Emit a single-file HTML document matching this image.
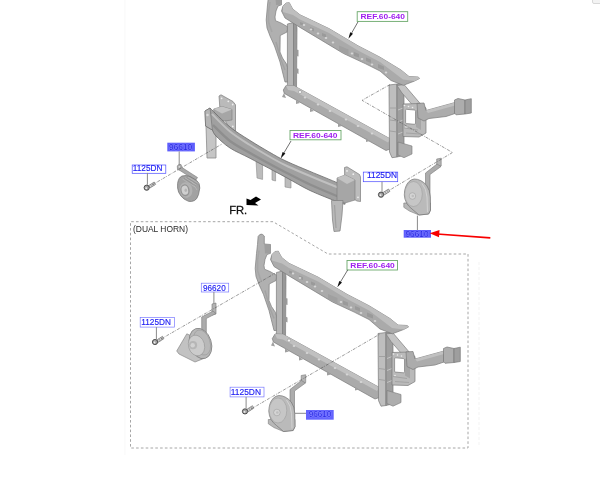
<!DOCTYPE html>
<html><head><meta charset="utf-8">
<style>
html,body{margin:0;padding:0;background:#fff;}
body{width:600px;height:483px;overflow:hidden;position:relative;font-family:"Liberation Sans",sans-serif;}
svg{position:absolute;left:0;top:0;}
</style></head>
<body>
<svg width="600" height="483" viewBox="0 0 600 483">
<defs>
<filter id="sf" x="-5%" y="-5%" width="110%" height="110%"><feGaussianBlur stdDeviation="0.5"/></filter>

</defs>

<rect x="124" y="0" width="1.6" height="455" fill="#fbfbfb"/>
<path d="M479,262 L479,447" stroke="#f6f6f6" stroke-width="1.2" stroke-dasharray="3,2"/>

<g filter="url(#sf)">
<g stroke-linejoin="round">
  <!-- tall left bracket -->
  <path d="M269.1,-12 Q272,-16.5 275.3,-12.5 L275.3,-4.5 L281.5,-4 L281.5,4.8 L278,6 L276,11 L275,17 L275.5,20.7 L281,23 L288,27 L287,32 L280.2,35.5 L280,52 L282.5,58 L286.5,64 L289,72 L290,82 L285,82 L280,62 L274.5,46 L270,36 L267,28 L266.2,20 L267.5,5 L268.5,-4 Z" fill="#b0b0b0" stroke="#7c7c7c" stroke-width="0.7"/>
  <path d="M275.3,-4.5 L281.5,-4 L281.5,4.8 L276,5 Z" fill="#9e9e9e"/>
  <path d="M270,2 L268.5,12 L268.5,22 L272,32" stroke="#a6a6a6" stroke-width="1.6" fill="none"/>
  <path d="M276,42 L281,60 L285,70" stroke="#a2a2a2" stroke-width="1.4" fill="none"/>
  <!-- left post -->
  <path d="M287.4,24 L293.5,22.5 L293.5,92 L287.4,93 Z" fill="#b6b6b6" stroke="#7c7c7c" stroke-width="0.7"/>
  <path d="M293.5,22.5 L296,21.5 L297,28 L296.5,90 L293.5,92 Z" fill="#989898" stroke="#7c7c7c" stroke-width="0.7"/>
  <path d="M296.5,49.5 L298.5,50 L298.5,56.5 L296.5,56 Z M296.5,68 L298.5,69 L298.5,74 L296.5,73 Z" fill="#9a9a9a"/>
  <!-- bottom beam -->
  <path d="M283.3,90 L286,85.5 L294,85.8 L390.5,139 L393,148 L386,150.5 L296,100 L284.3,93.4 Z" fill="#aaaaaa" stroke="#7a7a7a" stroke-width="0.7"/>
  <path d="M286,85.5 L294,85.8 L390.5,139 L388,142.5 L294,91 L288,90 Z" fill="#c0c0c0"/>
  <circle cx="300" cy="92" r="1.6" fill="#f4f4f4" stroke="#7a7a7a" stroke-width="0.4"/>
  <path d="M284,93 L282,97 L286,98 Z M296,100 L296,104 L300,103 Z M310,108 L310,112 L314,111 Z M338,123 L338,127 L342,126 Z M366,138 L366,142 L370,141 Z" fill="#a0a0a0"/>
  <!-- right post -->
  <path d="M389,85 L397,84 L397,157 L392,157.7 L389.5,152 Z" fill="#bebebe" stroke="#7a7a7a" stroke-width="0.7"/>
  <path d="M397,84 L401,83 L404,88 L404,150 L401,156 L397,157 Z" fill="#9e9e9e" stroke="#7a7a7a" stroke-width="0.7"/>
  <path d="M390,108 L397,108 M390,120 L397,121 M390,131 L397,132" stroke="#999" stroke-width="0.8"/>
  <path d="M398,110 L403,108 M398,122 L403,120 M398,134 L403,132" stroke="#c4c4c4" stroke-width="1"/>
  <path d="M398,142 L412,146 L412,154 L404,157.7 L398,155 Z" fill="#adadad" stroke="#7a7a7a" stroke-width="0.6"/>
  <!-- diagonal brace -->
  <path d="M397,85.5 L404,84.5 L421,104.5 L421.5,110 L415.5,108.5 L402,93 Z" fill="#c4c4c4" stroke="#7c7c7c" stroke-width="0.7"/>
  <!-- bracket plate with hole -->
  <path d="M403,104 L420,103.5 L426,108 L426,133 L419,137 L403,136.5 Z M406.5,109.3 L414.5,110 Q415.5,110.2 415.5,111.5 L415.5,123 Q415.5,124.3 414.5,124.3 L406.5,123.6 Q405.6,123.5 405.6,122.5 L405.6,110.5 Q405.6,109.3 406.5,109.3 Z" fill-rule="evenodd" fill="#bababa" stroke="#7a7a7a" stroke-width="0.7"/>
  <circle cx="404.5" cy="105.5" r="0.8" fill="#eee"/><circle cx="408.5" cy="106.5" r="0.8" fill="#eee"/><circle cx="412.5" cy="107.5" r="0.8" fill="#eee"/><circle cx="406" cy="127" r="0.8" fill="#eee"/><circle cx="418.5" cy="121" r="0.8" fill="#eee"/>
  <path d="M416,110 L421,112 L421,130 L416,127 Z" fill="#a6a6a6"/>
  <path d="M404,128 L418,130 M406,133 L420,134" stroke="#9a9a9a" stroke-width="0.7"/>
  <!-- arm -->
  <path d="M417,103.4 L424,103 L426,110.5 L455,102.5 L455,113.5 L446,116.5 L429,118.5 L424,121 L418,118 Z" fill="#acacac" stroke="#7a7a7a" stroke-width="0.7"/>
  <path d="M426,110.5 L455,102.5 L455,105.5 L428,113 Z" fill="#c0c0c0"/>
  <path d="M454.5,100 L458,98.5 L465,100 L465,114 L456,114.8 L454.5,113 Z" fill="#adadad" stroke="#7a7a7a" stroke-width="0.7"/>
  <path d="M465,100 L471.3,98.7 L471.3,113 L465,114 Z" fill="#9e9e9e" stroke="#7a7a7a" stroke-width="0.7"/>
  <!-- top beam -->
  <path d="M281.5,11 L283,6 L286,3 L289.3,2.7 L292.7,9 L300,14.8 L329,28.6 L358,45.8 L380,57.2 L401,70 L409,76.5 L418.3,77 L419.5,78.5 L414.6,81 L403.4,85.3 L391,80.5 L380,71 L365.2,63.6 L343.5,53.5 L321.7,40.4 L300,27.4 L285,18 Z" fill="#aaaaaa" stroke="#7a7a7a" stroke-width="0.7"/>
  <path d="M283,6 L286,3 L289.3,2.7 L292.7,9 L300,14.8 L329,28.6 L358,45.8 L380,57.2 L401,70 L409,76.5 L418.3,77 L419.5,78.5 L414.6,81 L403,79.5 L380,62 L358,50.5 L329,33 L300,19.5 L293,15 L283,12 Z" fill="#bebebe"/>
  <path d="M300,22 L303,23 L303,25.5 L300,24.5 Z M310,27 L314,28.5 L314,31.5 L310,30 Z M322,33 L326,34.5 L326,37.5 L322,36 Z M354,52 L359,54 L359,57.5 L354,56 Z M366,57.5 L371,59.5 L371,63 L366,61 Z M378,64 L384,66.5 L384,70 L378,68 Z" fill="#9a9a9a"/>
  <ellipse cx="304" cy="25" rx="1.3" ry="0.9" fill="#d6d6d6"/><ellipse cx="311" cy="29.5" rx="1.3" ry="0.9" fill="#d6d6d6"/><ellipse cx="318" cy="33.5" rx="1.3" ry="0.9" fill="#d6d6d6"/><ellipse cx="326" cy="38" rx="1.3" ry="0.9" fill="#d6d6d6"/><ellipse cx="333" cy="42.5" rx="1.3" ry="0.9" fill="#d6d6d6"/><ellipse cx="352" cy="53.5" rx="1.3" ry="0.9" fill="#d6d6d6"/><ellipse cx="362" cy="59" rx="1.3" ry="0.9" fill="#d6d6d6"/><ellipse cx="372" cy="64.5" rx="1.3" ry="0.9" fill="#d6d6d6"/><ellipse cx="386" cy="72.5" rx="1.3" ry="0.9" fill="#d6d6d6"/><ellipse cx="305" cy="97.5" rx="1.3" ry="0.9" fill="#d6d6d6"/><ellipse cx="318" cy="104.5" rx="1.3" ry="0.9" fill="#d6d6d6"/><ellipse cx="330" cy="111" rx="1.3" ry="0.9" fill="#d6d6d6"/><ellipse cx="346" cy="119.5" rx="1.3" ry="0.9" fill="#d6d6d6"/><ellipse cx="358" cy="126" rx="1.3" ry="0.9" fill="#d6d6d6"/><ellipse cx="372" cy="133.5" rx="1.3" ry="0.9" fill="#d6d6d6"/>
  <path d="M339,45.5 L348.5,49.5 L348.5,55 L339,50.5 Z" fill="#a0a0a0"/>
</g>
<g stroke-linejoin="round" transform="translate(-11,248.5)">
  <!-- tall left bracket -->
  <path d="M269.1,-12 Q272,-16.5 275.3,-12.5 L275.3,-4.5 L281.5,-4 L281.5,4.8 L278,6 L276,11 L275,17 L275.5,20.7 L281,23 L288,27 L287,32 L280.2,35.5 L280,52 L282.5,58 L286.5,64 L289,72 L290,82 L285,82 L280,62 L274.5,46 L270,36 L267,28 L266.2,20 L267.5,5 L268.5,-4 Z" fill="#b0b0b0" stroke="#7c7c7c" stroke-width="0.7"/>
  <path d="M275.3,-4.5 L281.5,-4 L281.5,4.8 L276,5 Z" fill="#9e9e9e"/>
  <path d="M270,2 L268.5,12 L268.5,22 L272,32" stroke="#a6a6a6" stroke-width="1.6" fill="none"/>
  <path d="M276,42 L281,60 L285,70" stroke="#a2a2a2" stroke-width="1.4" fill="none"/>
  <!-- left post -->
  <path d="M287.4,24 L293.5,22.5 L293.5,92 L287.4,93 Z" fill="#b6b6b6" stroke="#7c7c7c" stroke-width="0.7"/>
  <path d="M293.5,22.5 L296,21.5 L297,28 L296.5,90 L293.5,92 Z" fill="#989898" stroke="#7c7c7c" stroke-width="0.7"/>
  <path d="M296.5,49.5 L298.5,50 L298.5,56.5 L296.5,56 Z M296.5,68 L298.5,69 L298.5,74 L296.5,73 Z" fill="#9a9a9a"/>
  <!-- bottom beam -->
  <path d="M283.3,90 L286,85.5 L294,85.8 L390.5,139 L393,148 L386,150.5 L296,100 L284.3,93.4 Z" fill="#aaaaaa" stroke="#7a7a7a" stroke-width="0.7"/>
  <path d="M286,85.5 L294,85.8 L390.5,139 L388,142.5 L294,91 L288,90 Z" fill="#c0c0c0"/>
  <circle cx="300" cy="92" r="1.6" fill="#f4f4f4" stroke="#7a7a7a" stroke-width="0.4"/>
  <path d="M284,93 L282,97 L286,98 Z M296,100 L296,104 L300,103 Z M310,108 L310,112 L314,111 Z M338,123 L338,127 L342,126 Z M366,138 L366,142 L370,141 Z" fill="#a0a0a0"/>
  <!-- right post -->
  <path d="M389,85 L397,84 L397,157 L392,157.7 L389.5,152 Z" fill="#bebebe" stroke="#7a7a7a" stroke-width="0.7"/>
  <path d="M397,84 L401,83 L404,88 L404,150 L401,156 L397,157 Z" fill="#9e9e9e" stroke="#7a7a7a" stroke-width="0.7"/>
  <path d="M390,108 L397,108 M390,120 L397,121 M390,131 L397,132" stroke="#999" stroke-width="0.8"/>
  <path d="M398,110 L403,108 M398,122 L403,120 M398,134 L403,132" stroke="#c4c4c4" stroke-width="1"/>
  <path d="M398,142 L412,146 L412,154 L404,157.7 L398,155 Z" fill="#adadad" stroke="#7a7a7a" stroke-width="0.6"/>
  <!-- diagonal brace -->
  <path d="M397,85.5 L404,84.5 L421,104.5 L421.5,110 L415.5,108.5 L402,93 Z" fill="#c4c4c4" stroke="#7c7c7c" stroke-width="0.7"/>
  <!-- bracket plate with hole -->
  <path d="M403,104 L420,103.5 L426,108 L426,133 L419,137 L403,136.5 Z M406.5,109.3 L414.5,110 Q415.5,110.2 415.5,111.5 L415.5,123 Q415.5,124.3 414.5,124.3 L406.5,123.6 Q405.6,123.5 405.6,122.5 L405.6,110.5 Q405.6,109.3 406.5,109.3 Z" fill-rule="evenodd" fill="#bababa" stroke="#7a7a7a" stroke-width="0.7"/>
  <circle cx="404.5" cy="105.5" r="0.8" fill="#eee"/><circle cx="408.5" cy="106.5" r="0.8" fill="#eee"/><circle cx="412.5" cy="107.5" r="0.8" fill="#eee"/><circle cx="406" cy="127" r="0.8" fill="#eee"/><circle cx="418.5" cy="121" r="0.8" fill="#eee"/>
  <path d="M416,110 L421,112 L421,130 L416,127 Z" fill="#a6a6a6"/>
  <path d="M404,128 L418,130 M406,133 L420,134" stroke="#9a9a9a" stroke-width="0.7"/>
  <!-- arm -->
  <path d="M417,103.4 L424,103 L426,110.5 L455,102.5 L455,113.5 L446,116.5 L429,118.5 L424,121 L418,118 Z" fill="#acacac" stroke="#7a7a7a" stroke-width="0.7"/>
  <path d="M426,110.5 L455,102.5 L455,105.5 L428,113 Z" fill="#c0c0c0"/>
  <path d="M454.5,100 L458,98.5 L465,100 L465,114 L456,114.8 L454.5,113 Z" fill="#adadad" stroke="#7a7a7a" stroke-width="0.7"/>
  <path d="M465,100 L471.3,98.7 L471.3,113 L465,114 Z" fill="#9e9e9e" stroke="#7a7a7a" stroke-width="0.7"/>
  <!-- top beam -->
  <path d="M281.5,11 L283,6 L286,3 L289.3,2.7 L292.7,9 L300,14.8 L329,28.6 L358,45.8 L380,57.2 L401,70 L409,76.5 L418.3,77 L419.5,78.5 L414.6,81 L403.4,85.3 L391,80.5 L380,71 L365.2,63.6 L343.5,53.5 L321.7,40.4 L300,27.4 L285,18 Z" fill="#aaaaaa" stroke="#7a7a7a" stroke-width="0.7"/>
  <path d="M283,6 L286,3 L289.3,2.7 L292.7,9 L300,14.8 L329,28.6 L358,45.8 L380,57.2 L401,70 L409,76.5 L418.3,77 L419.5,78.5 L414.6,81 L403,79.5 L380,62 L358,50.5 L329,33 L300,19.5 L293,15 L283,12 Z" fill="#bebebe"/>
  <path d="M300,22 L303,23 L303,25.5 L300,24.5 Z M310,27 L314,28.5 L314,31.5 L310,30 Z M322,33 L326,34.5 L326,37.5 L322,36 Z M354,52 L359,54 L359,57.5 L354,56 Z M366,57.5 L371,59.5 L371,63 L366,61 Z M378,64 L384,66.5 L384,70 L378,68 Z" fill="#9a9a9a"/>
  <ellipse cx="304" cy="25" rx="1.3" ry="0.9" fill="#d6d6d6"/><ellipse cx="311" cy="29.5" rx="1.3" ry="0.9" fill="#d6d6d6"/><ellipse cx="318" cy="33.5" rx="1.3" ry="0.9" fill="#d6d6d6"/><ellipse cx="326" cy="38" rx="1.3" ry="0.9" fill="#d6d6d6"/><ellipse cx="333" cy="42.5" rx="1.3" ry="0.9" fill="#d6d6d6"/><ellipse cx="352" cy="53.5" rx="1.3" ry="0.9" fill="#d6d6d6"/><ellipse cx="362" cy="59" rx="1.3" ry="0.9" fill="#d6d6d6"/><ellipse cx="372" cy="64.5" rx="1.3" ry="0.9" fill="#d6d6d6"/><ellipse cx="386" cy="72.5" rx="1.3" ry="0.9" fill="#d6d6d6"/><ellipse cx="305" cy="97.5" rx="1.3" ry="0.9" fill="#d6d6d6"/><ellipse cx="318" cy="104.5" rx="1.3" ry="0.9" fill="#d6d6d6"/><ellipse cx="330" cy="111" rx="1.3" ry="0.9" fill="#d6d6d6"/><ellipse cx="346" cy="119.5" rx="1.3" ry="0.9" fill="#d6d6d6"/><ellipse cx="358" cy="126" rx="1.3" ry="0.9" fill="#d6d6d6"/><ellipse cx="372" cy="133.5" rx="1.3" ry="0.9" fill="#d6d6d6"/>
  <path d="M339,45.5 L348.5,49.5 L348.5,55 L339,50.5 Z" fill="#a0a0a0"/>
</g>

<!-- bumper beam -->
<path d="M219,96 L221,94.8 L233,101.5 L235.5,104.8 L235.5,131 L229,128 L220,110 Z" fill="#bababa" stroke="#7c7c7c" stroke-width="0.7"/>
<circle cx="221.6" cy="98.3" r="0.9" fill="#eee"/><circle cx="228.3" cy="101.3" r="0.9" fill="#eee"/><circle cx="232.7" cy="104.5" r="0.9" fill="#eee"/><circle cx="232.8" cy="126.5" r="0.9" fill="#eee"/>
<path d="M213.7,109 L222,106.5 L232,109.5 L232,120 L222,121.3 L213.7,118 Z" fill="#a6a6a6" stroke="#7c7c7c" stroke-width="0.6"/>
<path d="M213.7,109 L222,106.5 L232,109.5 L222,113.5 Z" fill="#c4c4c4"/>
<path d="M206,126 L216,128 L216,158 L207,158 Z" fill="#c6c6c6" stroke="#8c8c8c" stroke-width="0.8"/>
<path d="M256,160 L262.6,162 L262.6,179.4 L257,178 Z M272,169 L275.6,170 L275.6,181 L272,180 Z M285,176 L291,178 L291,188 L285,187 Z" fill="#bcbcbc" stroke="#8c8c8c" stroke-width="0.6"/>
<path d="M205,111 L210,108 C213.3,111.2 223.3,121.6 230.0,127.0 C236.7,132.4 242.8,135.9 250.0,140.5 C257.2,145.1 267.2,150.9 273.5,154.5 C279.8,158.1 281.9,159.2 288.0,162.0 C294.1,164.8 301.7,167.9 310.0,171.4 C318.3,174.9 332.2,180.5 338.0,183.0 C343.8,185.5 343.8,185.9 345.0,186.5 L345,204.3 C343.8,203.9 343.8,204.3 338.0,202.0 C332.2,199.7 318.3,194.4 310.0,190.5 C301.7,186.6 294.1,181.8 288.0,178.5 C281.9,175.2 279.8,174.1 273.5,170.7 C267.2,167.3 257.2,162.1 250.0,158.3 C242.8,154.5 235.7,151.7 230.0,148.0 C224.3,144.3 218.9,139.0 216.0,136.0 C213.1,133.0 213.0,131.0 212.4,130.0 L205.6,126 Z" fill="#a0a0a0" stroke="#6a6a6a" stroke-width="0.8"/>
<path d="M205,111 L210,108 L212.4,130 L205.6,126 Z" fill="#b4b4b4" stroke="#6e6e6e" stroke-width="0.6"/>
<circle cx="207.5" cy="115" r="1.3" fill="#d8d8d8"/>
<path d="M212,114 C215.0,116.9 223.7,126.3 230.0,131.5 C236.3,136.7 242.8,140.4 250.0,145.0 C257.2,149.6 267.2,155.4 273.5,159.0 C279.8,162.6 281.9,163.7 288.0,166.5 C294.1,169.3 301.7,172.5 310.0,176.0 C318.3,179.5 332.3,185.2 338.0,187.5 C343.7,189.8 343.0,189.6 344.0,190.0" stroke="#c0c0c0" stroke-width="2" fill="none"/>
<path d="M213,125 C215.8,127.7 223.8,136.3 230.0,141.0 C236.2,145.7 242.8,148.8 250.0,153.0 C257.2,157.2 267.2,162.6 273.5,166.0 C279.8,169.4 281.9,170.4 288.0,173.5 C294.1,176.6 301.7,180.7 310.0,184.5 C318.3,188.3 332.3,194.2 338.0,196.5 C343.7,198.8 343.0,198.2 344.0,198.5" stroke="#8e8e8e" stroke-width="2.4" fill="none"/>


<path d="M344.5,167.5 L347,166.8 L359.5,174.5 L360.5,177 L360.5,201.5 L357,201 L345,194 Z" fill="#bcbcbc" stroke="#7c7c7c" stroke-width="0.7"/>
<circle cx="347" cy="170.9" r="0.9" fill="#eee"/><circle cx="353.3" cy="174.2" r="0.9" fill="#eee"/><circle cx="358" cy="197.3" r="0.9" fill="#eee"/>
<path d="M337,178 L345,175 L355,180 L355,200 L345,203 L337,201 Z" fill="#a6a6a6" stroke="#7c7c7c" stroke-width="0.6"/>
<path d="M337,178 L345,175 L355,180 L347,184 Z" fill="#c2c2c2"/>
<path d="M331.5,200.5 L343,200.5 L342,215 L340,231 L334,231.5 L332.5,220 Z" fill="#b8b8b8" stroke="#7c7c7c" stroke-width="0.7"/>
<path d="M334.5,205 L336,228" stroke="#a0a0a0" stroke-width="1.2"/>

<!-- horns -->
<g id="h1">
<path d="M177.3,166 Q178.5,163.5 181,164.5 L182,167.5 L197.5,177.5 L195.5,180.5 L180,170.5 L177.5,169.5 Z" fill="#a8a8a8" stroke="#7a7a7a" stroke-width="0.6"/>
<circle cx="179.3" cy="166.8" r="0.9" fill="#ddd"/>
<path d="M177.6,183.4 Q178.5,177.5 182,176 Q186,174.8 190,176.5 L196.6,180.4 Q200,183 199.8,188 L198.5,194.6 Q197,199.5 194.4,200.6 Q191.5,202 188.5,201.3 Q183.5,199.5 181,196.1 Q178,192.5 177.6,188 Z" fill="#a2a2a2" stroke="#6e6e6e" stroke-width="0.7"/>
<path d="M185,177.8 L196.5,185 M188,177 L198.5,183.5 M182.5,179 L195,187 M191.5,181 L197,190" stroke="#c0c0c0" stroke-width="0.6" fill="none"/><path d="M186.5,177.5 L197.5,184.3 M184,178.3 L195.8,186" stroke="#888" stroke-width="0.5" fill="none"/>
<ellipse cx="186" cy="190" rx="6.3" ry="7.8" transform="rotate(-15 186 190)" fill="#b2b2b2"/>
<ellipse cx="185" cy="190.3" rx="4.6" ry="6" transform="rotate(-10 185 190.3)" fill="#959595"/>
<ellipse cx="184.9" cy="190.2" rx="3.3" ry="4.6" transform="rotate(-10 184.9 190.2)" fill="#d0d0d0"/>
<ellipse cx="185.8" cy="190.3" rx="1.3" ry="1.8" fill="#b4b4b4"/>
</g>
<g id="h2">
<path d="M436.7,159 L441.2,158.2 L441.2,166 L436.7,167 Z" fill="#b4b4b4" stroke="#7a7a7a" stroke-width="0.6"/>
<path d="M437,164 L441,166.5 L430,174.5 L430,205 L425.5,205 L425.5,173 Z" fill="#acacac" stroke="#7a7a7a" stroke-width="0.6"/>
<path d="M403.8,203 L403.8,207.3 L409.5,211.1 L419,215 L428.6,214 L430.5,210.2 L430.5,203 Z" fill="#b8b8b8" stroke="#7a7a7a" stroke-width="0.6"/>
<path d="M414.3,179 Q421,179 426.7,185.4 Q430,190 430.3,197 L430.5,210.2 L428.6,214 L419,215 L412,209 Q405,204 404.3,195 Q404.5,186 409,181.5 Q411.5,179.3 414.3,179 Z" fill="#bababa" stroke="#747474" stroke-width="0.7"/>
<path d="M422,183.5 Q426.5,189 427,197 L427.5,212" stroke="#d4d4d4" stroke-width="0.9" fill="none"/>
<ellipse cx="413.5" cy="194" rx="8.8" ry="12.5" fill="#c6c6c6" stroke="#999" stroke-width="0.5"/>
<circle cx="412.4" cy="196" r="3.3" fill="#d4d4d4" stroke="#a0a0a0" stroke-width="0.6"/><circle cx="412.8" cy="196" r="1.3" fill="#bdbdbd"/>
</g>
<g transform="translate(-135.5,216.5)">
<path d="M436.7,159 L441.2,158.2 L441.2,166 L436.7,167 Z" fill="#b4b4b4" stroke="#7a7a7a" stroke-width="0.6"/>
<path d="M437,164 L441,166.5 L430,174.5 L430,205 L425.5,205 L425.5,173 Z" fill="#acacac" stroke="#7a7a7a" stroke-width="0.6"/>
<path d="M403.8,203 L403.8,207.3 L409.5,211.1 L419,215 L428.6,214 L430.5,210.2 L430.5,203 Z" fill="#b8b8b8" stroke="#7a7a7a" stroke-width="0.6"/>
<path d="M414.3,179 Q421,179 426.7,185.4 Q430,190 430.3,197 L430.5,210.2 L428.6,214 L419,215 L412,209 Q405,204 404.3,195 Q404.5,186 409,181.5 Q411.5,179.3 414.3,179 Z" fill="#bababa" stroke="#747474" stroke-width="0.7"/>
<path d="M422,183.5 Q426.5,189 427,197 L427.5,212" stroke="#d4d4d4" stroke-width="0.9" fill="none"/>
<ellipse cx="413.5" cy="194" rx="8.8" ry="12.5" fill="#c6c6c6" stroke="#999" stroke-width="0.5"/>
<circle cx="412.4" cy="196" r="3.3" fill="#d4d4d4" stroke="#a0a0a0" stroke-width="0.6"/><circle cx="412.8" cy="196" r="1.3" fill="#bdbdbd"/>
</g>
<g id="h3">
<path d="M212,304 L216,303 L216,314 L212,315 Z" fill="#b4b4b4" stroke="#7a7a7a" stroke-width="0.6"/>
<path d="M213,311 L216,313.5 L206.3,318.5 L206.3,339 L201.7,339 L201.7,317 Z" fill="#acacac" stroke="#7a7a7a" stroke-width="0.6"/>
<path d="M186.8,333.8 L176.7,351 L179,354 L195,362 L204,358.4 L200,340 Z" fill="#c2c2c2" stroke="#7a7a7a" stroke-width="0.6"/>
<ellipse cx="200.5" cy="343.5" rx="10.8" ry="15.6" transform="rotate(-18 200.5 343.5)" fill="#b8b8b8" stroke="#7a7a7a" stroke-width="0.7"/>
<ellipse cx="202" cy="342.5" rx="8" ry="13" transform="rotate(-18 202 342.5)" fill="none" stroke="#999" stroke-width="0.6"/>
<ellipse cx="196.5" cy="345.5" rx="8" ry="10.5" transform="rotate(-15 196.5 345.5)" fill="#cccccc" stroke="#8e8e8e" stroke-width="0.5"/>
<circle cx="193" cy="345.2" r="4.1" fill="#b6b6b6"/>
<circle cx="192.7" cy="345.2" r="2.2" fill="#d2d2d2"/>
</g>
<!-- bolts -->
<g id="bolt">
<path d="M148.6,185.6 L154.2,182 L155.6,184.4 L150,188 Z" fill="#cfcfcf" stroke="#555" stroke-width="0.55"/>
<path d="M150.6,184.4 L152,186.8 M152.6,183.1 L154,185.5" stroke="#666" stroke-width="0.45"/>
<circle cx="146.7" cy="187.7" r="2.6" fill="#a4a4a4" stroke="#3a3a3a" stroke-width="0.85"/>
<circle cx="146.2" cy="188.2" r="0.9" fill="#f0f0f0"/>
</g>
<g transform="translate(234.3,7)">
<path d="M148.6,185.6 L154.2,182 L155.6,184.4 L150,188 Z" fill="#cfcfcf" stroke="#555" stroke-width="0.55"/>
<path d="M150.6,184.4 L152,186.8 M152.6,183.1 L154,185.5" stroke="#666" stroke-width="0.45"/>
<circle cx="146.7" cy="187.7" r="2.6" fill="#a4a4a4" stroke="#3a3a3a" stroke-width="0.85"/>
<circle cx="146.2" cy="188.2" r="0.9" fill="#f0f0f0"/>
</g>
<g transform="translate(8.3,154.3)">
<path d="M148.6,185.6 L154.2,182 L155.6,184.4 L150,188 Z" fill="#cfcfcf" stroke="#555" stroke-width="0.55"/>
<path d="M150.6,184.4 L152,186.8 M152.6,183.1 L154,185.5" stroke="#666" stroke-width="0.45"/>
<circle cx="146.7" cy="187.7" r="2.6" fill="#a4a4a4" stroke="#3a3a3a" stroke-width="0.85"/>
<circle cx="146.2" cy="188.2" r="0.9" fill="#f0f0f0"/>
</g>
<g transform="translate(98.3,223.7)">
<path d="M148.6,185.6 L154.2,182 L155.6,184.4 L150,188 Z" fill="#cfcfcf" stroke="#555" stroke-width="0.55"/>
<path d="M150.6,184.4 L152,186.8 M152.6,183.1 L154,185.5" stroke="#666" stroke-width="0.45"/>
<circle cx="146.7" cy="187.7" r="2.6" fill="#a4a4a4" stroke="#3a3a3a" stroke-width="0.85"/>
<circle cx="146.2" cy="188.2" r="0.9" fill="#f0f0f0"/>
</g>
</g>

<!-- dashed lines -->
<g fill="none" stroke="#555" stroke-width="0.6" stroke-dasharray="3,1.2,0.8,1.2">
  <path d="M152,185 L222,144"/>
    <path d="M389.8,84.7 L362,100.3 L452.5,152.5 L389,190.5"/>
  <path d="M161,339 L275,273.4"/>
  <path d="M251,409 L380,334"/>
</g>
<path d="M273,221.7 L130.5,221.7 L130.5,448 L468,448 L468,254 L328,254 Z" fill="none" stroke="#9c9c9c" stroke-width="0.9" stroke-dasharray="2.6,2.2"/>

<!-- labels -->
<g font-family="Liberation Sans, sans-serif" font-size="8.6">
  <rect x="357.2" y="11.7" width="50.5" height="9.7" fill="#fff" stroke="#6aa86a" stroke-width="0.9"/>
  <text x="360.5" y="18.9" fill="#a020f0" font-size="8" font-weight="bold" textLength="44.5" lengthAdjust="spacingAndGlyphs">REF.60-640</text>
  <rect x="290" y="130.5" width="51" height="9.3" fill="#fff" stroke="#6aa86a" stroke-width="0.9"/>
  <text x="293" y="137.6" fill="#a020f0" font-size="8" font-weight="bold" textLength="44.5" lengthAdjust="spacingAndGlyphs">REF.60-640</text>
  <rect x="347" y="260.5" width="50.5" height="9.5" fill="#fff" stroke="#6aa86a" stroke-width="0.9"/>
  <text x="350.3" y="267.7" fill="#a020f0" font-size="8" font-weight="bold" textLength="44.5" lengthAdjust="spacingAndGlyphs">REF.60-640</text>

  <rect x="167.3" y="142.7" width="27.6" height="8.7" fill="#5e5efc"/>
  <text x="169" y="150.2" fill="#2424e0" stroke="#8c8cff" stroke-width="0.7" paint-order="stroke" textLength="23.2" lengthAdjust="spacingAndGlyphs">96610</text>
  <rect x="403.7" y="230" width="27.3" height="7.7" fill="#5e5efc"/>
  <text x="405.5" y="236.9" fill="#2424e0" stroke="#8c8cff" stroke-width="0.7" paint-order="stroke" textLength="23" lengthAdjust="spacingAndGlyphs">96610</text>
  <rect x="306" y="410" width="27.7" height="9.7" fill="#6464fe"/>
  <text x="308.7" y="416.9" fill="#2828e8" stroke="#9090ff" stroke-width="0.7" paint-order="stroke" textLength="22.7" lengthAdjust="spacingAndGlyphs">96610</text>

  <rect x="132.2" y="165" width="33.6" height="8.3" fill="#fff" stroke="#4a4aff" stroke-width="0.7"/>
  <text x="132.8" y="171.4" fill="#1c1cf4" stroke="#1c1cf4" stroke-width="0.15" textLength="29.6" lengthAdjust="spacingAndGlyphs">1125DN</text>
  <rect x="363.3" y="172.1" width="34.4" height="9.6" fill="#fff" stroke="#4a4aff" stroke-width="0.7"/>
  <text x="367" y="178.4" fill="#1c1cf4" stroke="#1c1cf4" stroke-width="0.15" textLength="30" lengthAdjust="spacingAndGlyphs">1125DN</text>
  <rect x="140.2" y="317.5" width="34.2" height="9.6" fill="#fff" stroke="#7a7aff" stroke-width="0.7"/>
  <text x="141.3" y="325" fill="#1c1cf4" stroke="#1c1cf4" stroke-width="0.15" textLength="29.6" lengthAdjust="spacingAndGlyphs">1125DN</text>
  <rect x="230.1" y="387.2" width="33.9" height="9.7" fill="#fff" stroke="#7a7aff" stroke-width="0.7"/>
  <text x="230.8" y="394.5" fill="#1c1cf4" stroke="#1c1cf4" stroke-width="0.15" textLength="30.2" lengthAdjust="spacingAndGlyphs">1125DN</text>
  <rect x="201.3" y="283.2" width="27.4" height="8.8" fill="#fff" stroke="#7a7aff" stroke-width="0.7"/>
  <text x="203" y="290.7" fill="#1c1cf4" stroke="#1c1cf4" stroke-width="0.15" textLength="22.7" lengthAdjust="spacingAndGlyphs">96620</text>

  <text x="133" y="231.7" fill="#2a2a2a" font-size="8.6" textLength="55" lengthAdjust="spacingAndGlyphs">(DUAL HORN)</text>
  <text x="229.2" y="213.5" fill="#111" stroke="#111" stroke-width="0.3" font-size="11.2" textLength="18" lengthAdjust="spacingAndGlyphs">FR.</text>
</g>

<!-- leader lines -->
<g stroke="#333" stroke-width="0.7" fill="none">
  <path d="M358,21.8 L350,35.9"/>
  <path d="M291,141 L282.3,155.6"/>
  <path d="M347.8,269.8 L338.9,284.5"/>
</g>
<g stroke="#8a8a8a" stroke-width="1" fill="none">
  <path d="M179.2,151.4 L179.2,165"/>
  <path d="M147.4,172.9 L147.4,184.8"/>
  <path d="M382,181.7 L382,192"/>
  <path d="M417.4,215.6 L417.4,230"/>
  <path d="M156.4,327.1 L156.4,339.5"/>
  <path d="M246.1,396.9 L246.1,408.8"/>
  <path d="M213.9,292 L213.9,304"/>
  <path d="M295,413.3 L306,413.3"/>
</g>
<path d="M348.4,38.7 L350.2,32.3 L353.0,33.8 Z M280.7,158.4 L282.6,152.0 L285.4,153.6 Z M337.3,287.3 L339.3,280.9 L342.0,282.5 Z" fill="#111"/>
<!-- red arrow -->
<path d="M490.3,237.8 L437,234" stroke="#f80000" stroke-width="1.7"/>
<path d="M429.7,233.3 L439.5,229.9 L439,237.2 Z" fill="#f80000"/>
<!-- FR arrow -->
<path d="M246.5,198.5 L246.5,205 L258.5,205.5 L255,203 L261,199.5 L256,196.5 L250.5,200 Z" fill="#000"/>
<rect x="592.5" y="-3" width="10" height="6.5" rx="1.5" fill="#f3f3f3" stroke="#cfcfcf" stroke-width="0.8"/>
</svg>
</body></html>
